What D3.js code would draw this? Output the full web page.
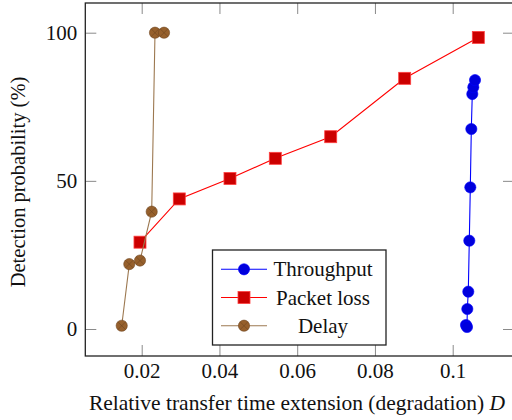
<!DOCTYPE html>
<html>
<head>
<meta charset="utf-8">
<script src="https://cdn.jsdelivr.net/npm/d3@7"></script>
<style>
  body { margin: 0; background: #fff; }
</style>
</head>
<body>
<svg id="canvas" width="512" height="420"></svg>
<script>
// data
let throughputX = [0.10342, 0.10368, 0.10376, 0.10401, 0.10427, 0.10453, 0.10479, 0.10504, 0.1053, 0.10574];
let throughputY = [1.35, 0.67, 6.75, 12.6, 29.8, 47.8, 67.5, 79.3, 81.6, 84.0];

let lossX = [0.01956, 0.02967, 0.04271, 0.05437, 0.06862, 0.08765, 0.10659];
let lossY = [29.3, 43.9, 50.8, 57.6, 64.9, 84.6, 98.4];

let delayX = [0.01486, 0.01681, 0.01956, 0.02257, 0.02342, 0.02574];
let delayY = [1.1, 21.9, 23.1, 39.6, 100, 100];

let xTicks = [0.02, 0.04, 0.06, 0.08, 0.1];
let yTicks = [0, 50, 100];
let legendNames = ['Throughput', 'Packet loss', 'Delay'];

let canvas = d3.select('#canvas');

let x = d3.scaleLinear().domain([0.02, 0.1]).range([141.7, 452.7]);
let y = d3.scaleLinear().domain([0, 100]).range([329, 32.7]);

let boxLeft = 85.3, boxRight = 514, boxTop = 3, boxBottom = 356;

let tickColor = '#8a8a8a';
let serif = "'Liberation Serif', 'Times New Roman', serif";

// axes (ticks point inward, mirrored top/right)
let styleAxis = (g) => {
    g.attr('font-family', serif).attr('font-size', 21);
    g.select('.domain').remove();
    g.selectAll('.tick line').attr('stroke', tickColor).attr('stroke-width', 1);
    g.selectAll('.tick text').attr('fill', '#111');
}

canvas.append('g').attr('transform', `translate(0,${boxBottom})`)
    .call(d3.axisBottom(x).tickValues(xTicks).tickSize(-11).tickPadding(7)
        .tickFormat(d => String(+d.toFixed(2))))
    .call(styleAxis);
canvas.append('g').attr('transform', `translate(0,${boxTop})`)
    .call(d3.axisTop(x).tickValues(xTicks).tickSize(-11).tickFormat(''))
    .call(styleAxis);
canvas.append('g').attr('transform', `translate(${boxLeft},0)`)
    .call(d3.axisLeft(y).tickValues(yTicks).tickSize(-11).tickPadding(8))
    .call(styleAxis);
canvas.append('g').attr('transform', `translate(${boxRight},0)`)
    .call(d3.axisRight(y).tickValues(yTicks).tickSize(-11).tickFormat(''))
    .call(styleAxis);

canvas.append('rect')
    .attr('x', boxLeft).attr('y', boxTop)
    .attr('width', boxRight - boxLeft).attr('height', boxBottom - boxTop)
    .attr('fill', 'none').attr('stroke', '#222').attr('stroke-width', 1.3);

// axis titles
canvas.append('text')
    .attr('x', 297).attr('y', 410)
    .attr('font-family', serif)
    .attr('text-anchor', 'middle').attr('font-size', 21.5).attr('fill', '#111')
    .text('Relative transfer time extension (degradation) ')
    .append('tspan').attr('font-style', 'italic').text('D');

canvas.append('text')
    .attr('transform', 'translate(25,182) rotate(-90)')
    .attr('font-family', serif)
    .attr('text-anchor', 'middle').attr('font-size', 20.5).attr('fill', '#111')
    .text('Detection probability (%)');

let line = d3.line().x(d => x(d[0])).y(d => y(d[1]));

let series = [
    { name: 'Throughput', xs: throughputX, ys: throughputY, color: '#0000ff', fill: '#0000dd', stroke: '#0000ff', mark: 'circle' },
    { name: 'Packet loss', xs: lossX, ys: lossY, color: '#ff0000', fill: '#cc0000', stroke: '#ff4040', mark: 'square' },
    { name: 'Delay', xs: delayX, ys: delayY, color: '#9c7850', fill: '#96602c', stroke: '#6e4520', mark: 'otimes' }
];

let drawMarker = (g, s, cx, cy) => {
    if (s.mark === 'circle') {
        g.append('circle').attr('cx', cx).attr('cy', cy).attr('r', 5.6)
            .attr('fill', s.fill).attr('stroke', s.stroke).attr('stroke-width', 0.6);
    } else if (s.mark === 'square') {
        g.append('rect').attr('x', cx - 6).attr('y', cy - 6).attr('width', 12).attr('height', 12)
            .attr('fill', s.fill).attr('stroke', s.stroke).attr('stroke-width', 0.8);
    } else {
        let r = 5.6;
        g.append('circle').attr('cx', cx).attr('cy', cy).attr('r', r)
            .attr('fill', s.fill).attr('stroke', s.stroke).attr('stroke-width', 0.6);
        let k = r * 0.707;
        g.append('path')
            .attr('d', `M${cx - k},${cy - k}L${cx + k},${cy + k}M${cx - k},${cy + k}L${cx + k},${cy - k}`)
            .attr('stroke', s.stroke).attr('stroke-width', 0.6);
    }
}

let plot = canvas.append('g');
series.forEach(s => {
    let pts = s.xs.map((v, i) => [v, s.ys[i]]);
    plot.append('path').datum(pts)
        .attr('d', line).attr('fill', 'none')
        .attr('stroke', s.color).attr('stroke-width', 1.1);
    let mg = plot.append('g');
    pts.forEach(p => drawMarker(mg, s, x(p[0]), y(p[1])));
});

// legend
let legend = canvas.append('g');
legend.append('rect')
    .attr('x', 212.5).attr('y', 250).attr('width', 173.5).attr('height', 95)
    .attr('fill', '#fff').attr('stroke', '#222').attr('stroke-width', 1.3);
let rowY = [269.3, 297.5, 325.7];
series.forEach((s, i) => {
    let ly = rowY[i];
    legend.append('line').attr('x1', 221).attr('x2', 267).attr('y1', ly).attr('y2', ly)
        .attr('stroke', s.color).attr('stroke-width', 1.1);
    drawMarker(legend, s, 244, ly);
    legend.append('text').attr('x', 323).attr('y', ly + 7)
        .attr('font-family', serif)
        .attr('text-anchor', 'middle').attr('font-size', 21).attr('fill', '#111')
        .text(legendNames[i]);
});
</script>
</body>
</html>
